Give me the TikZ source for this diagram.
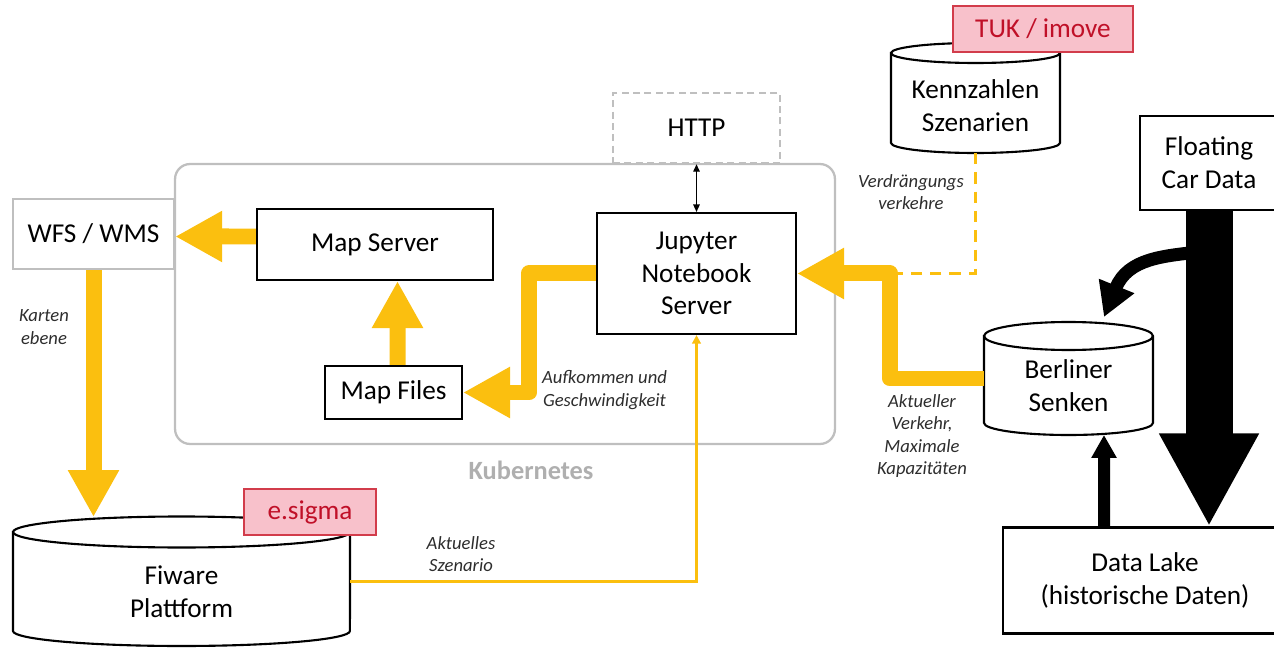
\documentclass[tikz,border=0pt]{standalone}
\usepackage{fontspec}
\setmainfont{Carlito}
\usetikzlibrary{arrows.meta,calc}
\definecolor{ygold}{RGB}{251,191,15}
\definecolor{lgray}{RGB}{191,191,191}
\definecolor{kgray}{RGB}{175,175,175}
\definecolor{redfill}{RGB}{248,193,203}
\definecolor{redline}{RGB}{210,60,75}
\definecolor{redtext}{RGB}{192,16,40}
\definecolor{lblgray}{RGB}{45,45,45}
\newcommand\mainsize{\fontsize{15.5}{18.7}\selectfont}
\begin{document}
\begin{tikzpicture}[x=0.02cm,y=-0.02cm,
  box/.style={draw=black, line width=1.2pt, fill=white, inner sep=0pt, align=center, font=\mainsize},
  gbox/.style={draw=lgray, line width=1.4pt, fill=white, inner sep=0pt, align=center, font=\mainsize},
  anchorbox/.style={inner sep=0pt, outer sep=0pt},
  cyltext/.style={align=center, font=\mainsize, inner sep=0pt},
  cylfill/.style={draw=black, line width=1.2pt, fill=white},
  redbox/.style={draw=redline, line width=0.9pt, fill=redfill, text=redtext, inner sep=0pt, font=\mainsize},
  lbl/.style={font=\fontsize{10.6}{12.8}\selectfont\itshape, text=lblgray, align=center, inner sep=0pt},
  yarrow/.style={draw=ygold, line width=0.32cm, line join=round, -{Triangle[length=0.94cm,width=0.96cm]}},
  ythin/.style={draw=ygold, line width=1.3pt, -{Triangle[length=0.17cm,width=0.17cm]}},
  ydash/.style={draw=ygold, line width=1.4pt, dash pattern=on 6.5pt off 4.5pt},
]
\useasboundingbox (0,0) rectangle (1274,648);

% Kubernetes frame
\node[draw=lgray, line width=1.3pt, rounded corners=0.3cm, minimum width=13.2cm, minimum height=5.6cm, inner sep=0pt] (kube) at (505,304) {};
\node[font=\fontsize{15}{17}\selectfont\bfseries, text=kgray, inner sep=0pt] (kubelbl) at (531,470) {Kubernetes};

% boxes
\node[gbox, minimum width=3.22cm, minimum height=1.40cm] (wfs) at (93.5,234) {WFS / WMS};
\node[gbox, draw=lgray, dashed, dash pattern=on 4pt off 2.5pt, minimum width=3.34cm, minimum height=1.40cm] (http) at (696.5,128) {HTTP};
\node[box, minimum width=4.72cm, minimum height=1.42cm] (mapserver) at (375,244.5) {Map Server};
\node[box, minimum width=2.74cm, minimum height=1.06cm] (mapfiles) at (393.5,392.5) {Map Files};
\node[box, minimum width=3.98cm, minimum height=2.42cm] (jupyter) at (696.5,273.5) {Jupyter\\Notebook\\Server};
\node[box, minimum width=2.76cm, minimum height=1.88cm] (fcd) at (1209,163) {Floating\\Car Data};
\node[box, minimum width=5.68cm, minimum height=2.12cm] (datalake) at (1145,580.5) {Data Lake\\(historische Daten)};

% cylinders
\path[cylfill] (13,532) -- (13,631) arc[start angle=180,end angle=360,x radius=3.37cm,y radius=0.30cm] -- (350,532) arc[start angle=0,end angle=180,x radius=3.37cm,y radius=0.31cm] -- cycle;
\draw[line width=1.2pt] (350,532) arc[start angle=0,end angle=-180,x radius=3.37cm,y radius=0.31cm];
\node[anchorbox, minimum width=6.74cm, minimum height=2.58cm] (fiware) at (181.5,581.5) {};
\node[cyltext] (fiwaretxt) at (181.5,592) {Fiware\\Plattform};

\path[cylfill] (984,336) -- (984,423) arc[start angle=180,end angle=360,x radius=1.69cm,y radius=0.24cm] -- (1153,336) arc[start angle=0,end angle=180,x radius=1.69cm,y radius=0.28cm] -- cycle;
\draw[line width=1.2pt] (1153,336) arc[start angle=0,end angle=-180,x radius=1.69cm,y radius=0.28cm];
\node[anchorbox, minimum width=3.38cm, minimum height=2.26cm] (bsk) at (1068.5,378.5) {};
\node[cyltext] (bsktxt) at (1068.5,386) {Berliner\\Senken};

\path[cylfill] (891,53) -- (891,143) arc[start angle=180,end angle=360,x radius=1.69cm,y radius=0.2cm] -- (1060,53) arc[start angle=0,end angle=180,x radius=1.69cm,y radius=0.2cm] -- cycle;
\draw[line width=1.2pt] (1060,53) arc[start angle=0,end angle=-180,x radius=1.69cm,y radius=0.2cm];
\node[anchorbox, minimum width=3.38cm, minimum height=2.2cm] (kzs) at (975.5,98) {};
\node[cyltext] (kzstxt) at (975.5,105.5) {Kennzahlen\\Szenarien};

% red tags
\node[redbox, minimum width=2.64cm, minimum height=0.92cm] (esigma) at (310,512) {e.sigma};
\node[redbox, minimum width=3.6cm, minimum height=0.92cm] (tuk) at (1043,29) {TUK / imove};

% connectors
\coordinate (bend) at (890,273.5);
\draw[ydash] (kzs.south) |- (bend);
\draw[yarrow] ([yshift=0.16cm]mapserver.west) -- ([yshift=-0.05cm]wfs.east);
\draw[yarrow] ([xshift=0.08cm]mapfiles.north) -- ([xshift=0.45cm]mapserver.south);
\draw[yarrow] (wfs.south) -- (wfs.south |- fiware.north);
\draw[yarrow] (jupyter.west) -- ++(-67,0) |- (mapfiles.east);
\draw[yarrow] (bsk.west) -| (bend) -- (jupyter.east);
\draw[ythin] (fiware.east) -| (jupyter.south);
\draw[line width=0.8pt, {Triangle[length=0.15cm,width=0.13cm]}-{Triangle[length=0.15cm,width=0.13cm]}] (http.south) -- (jupyter.north);

\draw[line width=0.24cm, -{Triangle[length=0.46cm,width=0.48cm]}] ([xshift=-0.82cm]datalake.north) -- ([xshift=0.71cm]bsk.south);
\draw[line width=0.94cm, -{Triangle[length=1.86cm,width=1.86cm]}] (fcd.south) -- (fcd.south |- datalake.north);
\coordinate (branch) at (1198,252);
\draw[line width=0.26cm, -{Triangle[length=0.67cm,width=0.72cm]}] (branch) .. controls (1165,256) and (1128,258) .. ([xshift=0.71cm,yshift=0.1cm]bsk.north);

% labels
\node[lbl] (l1) at (44,327) {Karten\\ebene};
\node[lbl] (l2) at (604.5,390) {Aufkommen und\\Geschwindigkeit};
\node[lbl] (l3) at (461,554) {Aktuelles\\Szenario};
\node[lbl] (l4) at (911,192) {Verdrängungs\\verkehre};
\node[lbl] (l5) at (922,436) {Aktueller\\Verkehr,\\Maximale\\Kapazitäten};
\end{tikzpicture}
\end{document}
